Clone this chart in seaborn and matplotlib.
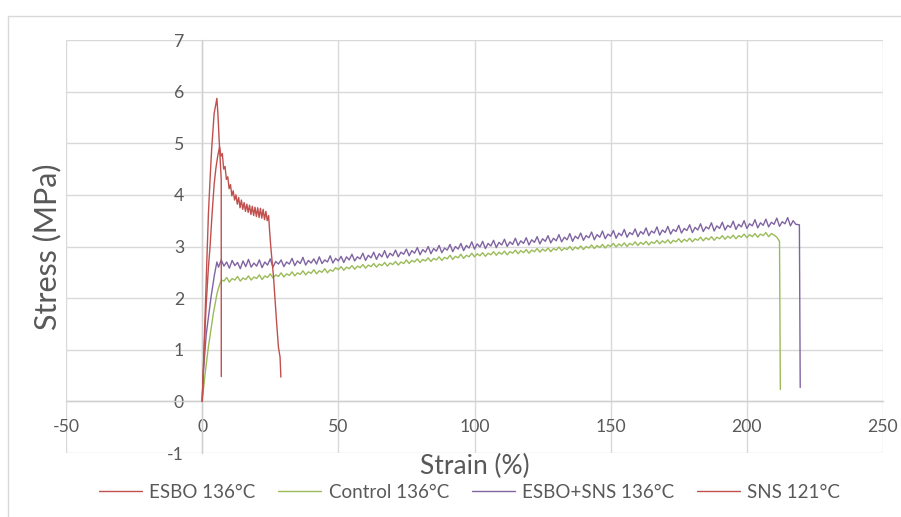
import matplotlib
matplotlib.use("Agg")
import matplotlib.pyplot as plt
import matplotlib.patches as mpatches
from matplotlib.lines import Line2D
import seaborn as sns
import pandas as pd

# ---------------- data ----------------
series_names = ["ESBO 136°C", "Control 136°C", "ESBO+SNS 136°C", "SNS 121°C"]
series_colors = ["#C0504D", "#9BBB59", "#8064A2", "#C0504D"]

x_ticks = [-50, 0, 50, 100, 150, 200, 250]
y_ticks = [-1, 0, 1, 2, 3, 4, 5, 6, 7]

esbo_strain = [0, 0.7, 1.5, 2.3, 2.9, 3.6, 4.4, 5.0, 5.7, 6.4,
               6.9, 7.4, 7.9, 8.4, 8.9, 9.4, 9.9, 10.4, 10.9, 11.4,
               11.9, 12.4, 12.9, 13.4, 13.9, 14.4, 14.9, 15.4, 15.9, 16.4,
               16.9, 17.4, 17.9, 18.4, 18.9, 19.4, 19.9, 20.4, 20.9, 21.4,
               21.9, 22.4, 22.9, 23.4, 23.9, 24.4, 24.7, 25.2, 26.2, 27.2,
               28.0, 28.6, 28.9]
esbo_stress = [0, 1.0, 1.9, 2.6, 3.0, 3.6, 4.2, 4.5, 4.75, 4.93,
               4.75, 4.80, 4.50, 4.55, 4.30, 4.35, 4.12, 4.20, 3.98, 4.08,
               3.90, 4.00, 3.82, 3.95, 3.75, 3.90, 3.72, 3.85, 3.68, 3.82,
               3.66, 3.80, 3.62, 3.78, 3.60, 3.76, 3.58, 3.75, 3.56, 3.74,
               3.55, 3.72, 3.52, 3.68, 3.50, 3.60, 3.35, 2.99, 2.41, 1.63,
               1.05, 0.86, 0.47]

sns_strain = [0, 0.5, 1.1, 1.7, 2.3, 2.9, 3.5, 4.4, 5.0, 5.4,
              5.8, 6.2, 6.6, 7.0, 7.02]
sns_stress = [0, 0.7, 1.7, 2.7, 3.64, 4.3, 4.9, 5.58, 5.75, 5.87,
              5.55, 5.1, 4.7, 4.3, 0.48]

control_strain = [0, 1, 2.3, 4.1, 5.5, 6.5, 7.2] + list(range(8, 212)) + [212.0, 212.3]
control_stress = [0, 0.5, 1.06, 1.7, 2.1, 2.28, 2.35,
    2.33, 2.40, 2.31, 2.38, 2.35, 2.42, 2.33, 2.39, 2.36, 2.43,
    2.35, 2.41, 2.38, 2.45, 2.36, 2.43, 2.40, 2.47, 2.39, 2.45,
    2.42, 2.49, 2.41, 2.47, 2.44, 2.51, 2.43, 2.49, 2.46, 2.53,
    2.45, 2.51, 2.48, 2.55, 2.47, 2.53, 2.50, 2.57, 2.49, 2.55,
    2.52, 2.59, 2.55, 2.61, 2.54, 2.60, 2.57, 2.63, 2.56, 2.62,
    2.59, 2.65, 2.58, 2.64, 2.61, 2.67, 2.60, 2.66, 2.63, 2.69,
    2.62, 2.68, 2.65, 2.71, 2.64, 2.70, 2.67, 2.74, 2.67, 2.73,
    2.70, 2.76, 2.69, 2.75, 2.72, 2.78, 2.71, 2.77, 2.74, 2.80,
    2.73, 2.79, 2.76, 2.83, 2.75, 2.81, 2.78, 2.85, 2.77, 2.83,
    2.80, 2.87, 2.80, 2.86, 2.82, 2.88, 2.81, 2.87, 2.84, 2.90,
    2.83, 2.89, 2.85, 2.91, 2.84, 2.90, 2.87, 2.93, 2.86, 2.92,
    2.88, 2.94, 2.87, 2.93, 2.90, 2.96, 2.89, 2.95, 2.91, 2.97,
    2.90, 2.96, 2.93, 2.99, 2.92, 2.97, 2.94, 3.00, 2.93, 2.99,
    2.95, 3.01, 2.94, 3.00, 2.97, 3.03, 2.96, 3.02, 2.98, 3.04,
    2.97, 3.03, 3.00, 3.06, 2.99, 3.05, 3.01, 3.07, 3.00, 3.06,
    3.03, 3.09, 3.02, 3.08, 3.04, 3.10, 3.03, 3.09, 3.06, 3.12,
    3.05, 3.11, 3.07, 3.13, 3.06, 3.12, 3.09, 3.15, 3.08, 3.14,
    3.10, 3.16, 3.09, 3.15, 3.12, 3.18, 3.11, 3.17, 3.13, 3.19,
    3.12, 3.18, 3.15, 3.21, 3.14, 3.20, 3.16, 3.22, 3.15, 3.21,
    3.18, 3.24, 3.17, 3.23, 3.19, 3.25, 3.18, 3.24, 3.21, 3.27,
    3.19, 3.25, 3.22, 3.18,
    3.10, 0.23]

esbo_sns_strain = [0, 0.5, 1.5, 3.2, 4.5, 5.4] + list(range(6, 219)) + [219.3, 219.6]
esbo_sns_stress = [0, 0.6, 1.3, 2.0, 2.45, 2.7,
    2.60, 2.74, 2.62, 2.70, 2.58, 2.73, 2.63, 2.69, 2.57, 2.72,
    2.61, 2.75, 2.60, 2.68, 2.62, 2.74, 2.59, 2.70, 2.64, 2.76,
    2.60, 2.71, 2.66, 2.74, 2.61, 2.70, 2.66, 2.77, 2.63, 2.72,
    2.67, 2.79, 2.64, 2.73, 2.68, 2.76, 2.66, 2.80, 2.67, 2.74,
    2.70, 2.82, 2.68, 2.77, 2.72, 2.81, 2.69, 2.80, 2.74, 2.85,
    2.72, 2.80, 2.76, 2.87, 2.73, 2.83, 2.78, 2.89, 2.75, 2.86,
    2.80, 2.92, 2.78, 2.87, 2.82, 2.93, 2.80, 2.89, 2.85, 2.95,
    2.82, 2.92, 2.87, 2.98, 2.84, 2.94, 2.89, 3.00, 2.86, 2.96,
    2.91, 3.02, 2.88, 2.97, 2.93, 3.04, 2.90, 3.00, 2.95, 3.06,
    2.92, 3.02, 2.97, 3.09, 2.95, 3.05, 2.99, 3.10, 2.96, 3.06,
    3.01, 3.12, 2.98, 3.08, 3.03, 3.14, 3.00, 3.09, 3.04, 3.16,
    3.02, 3.11, 3.06, 3.17, 3.03, 3.13, 3.08, 3.19, 3.05, 3.15,
    3.10, 3.21, 3.07, 3.16, 3.11, 3.23, 3.09, 3.18, 3.13, 3.25,
    3.10, 3.20, 3.15, 3.26, 3.12, 3.21, 3.17, 3.28, 3.13, 3.23,
    3.18, 3.30, 3.15, 3.24, 3.20, 3.31, 3.16, 3.26, 3.21, 3.33,
    3.18, 3.27, 3.23, 3.34, 3.19, 3.29, 3.24, 3.36, 3.21, 3.30,
    3.26, 3.38, 3.22, 3.32, 3.27, 3.39, 3.24, 3.33, 3.29, 3.41,
    3.26, 3.35, 3.31, 3.42, 3.27, 3.37, 3.32, 3.44, 3.29, 3.38,
    3.34, 3.46, 3.30, 3.40, 3.35, 3.47, 3.32, 3.41, 3.37, 3.49,
    3.33, 3.43, 3.38, 3.50, 3.35, 3.44, 3.40, 3.52, 3.36, 3.46,
    3.41, 3.53, 3.38, 3.47, 3.43, 3.55, 3.39, 3.48, 3.44, 3.56,
    3.40, 3.50, 3.43,
    3.42, 0.27]

# ---------------- figure ----------------
sns.set_style("white")
plt.rcParams["font.family"] = ["Lato", "DejaVu Sans"]
plt.rcParams["axes.unicode_minus"] = False

W, H = 901, 517
fig = plt.figure(figsize=(W / 100, H / 100), dpi=100)
ax = fig.add_axes([66 / W, 1 - 453 / H, (883 - 66) / W, (453 - 40) / H])

# outer chart border
fig.patches.append(mpatches.Rectangle((8 / W, -0.05), 1.2, 1 - 16 / H + 0.05,
                                      transform=fig.transFigure, fill=False,
                                      edgecolor="#d9d9d9", linewidth=1.0))

frames = [
    (esbo_strain, esbo_stress),
    (control_strain, control_stress),
    (esbo_sns_strain, esbo_sns_stress),
    (sns_strain, sns_stress),
]
draw_order = [1, 2, 0, 3]
for i in draw_order:
    xs, ys = frames[i]
    df = pd.DataFrame({"Strain": xs, "Stress": ys})
    sns.lineplot(data=df, x="Strain", y="Stress", ax=ax, sort=False,
                 estimator=None, color=series_colors[i], linewidth=1.0,
                 legend=False, zorder=3)

ax.set_xlim(-50, 250)
ax.set_ylim(-1, 7)
ax.set_xticks(x_ticks)
ax.set_yticks(y_ticks)
ax.grid(True, color="#d9d9d9", linewidth=1.0)
ax.set_axisbelow(True)

for s in ["top", "right"]:
    ax.spines[s].set_visible(False)
ax.spines["left"].set_position(("data", 0))
ax.spines["bottom"].set_position(("data", 0))
for s in ["left", "bottom"]:
    ax.spines[s].set_color("#d0d0d0")
    ax.spines[s].set_linewidth(1.0)

ax.tick_params(axis="both", length=0, labelsize=12.7, labelcolor="#595959")
ax.tick_params(axis="x", pad=13)
ax.tick_params(axis="y", pad=13)
ax.set_xlabel("")
ax.set_ylabel("")

fig.text(474.5 / W, 1 - 466 / H, "Strain (%)", ha="center", va="center",
         fontsize=19, color="#595959")
fig.text(47 / W, 1 - 246.5 / H, "Stress (MPa)", ha="center", va="center",
         rotation=90, fontsize=22, color="#595959")

handles = [Line2D([], [], color=c, linewidth=1.0) for c in series_colors]
fig.legend(handles, series_names, loc="center", ncol=4,
           bbox_to_anchor=(469.5 / W, 1 - 492 / H), frameon=False,
           fontsize=13.5, labelcolor="#595959", handlelength=2.3,
           handletextpad=0.4, columnspacing=1.2)

fig.savefig("out.png", dpi=100)
